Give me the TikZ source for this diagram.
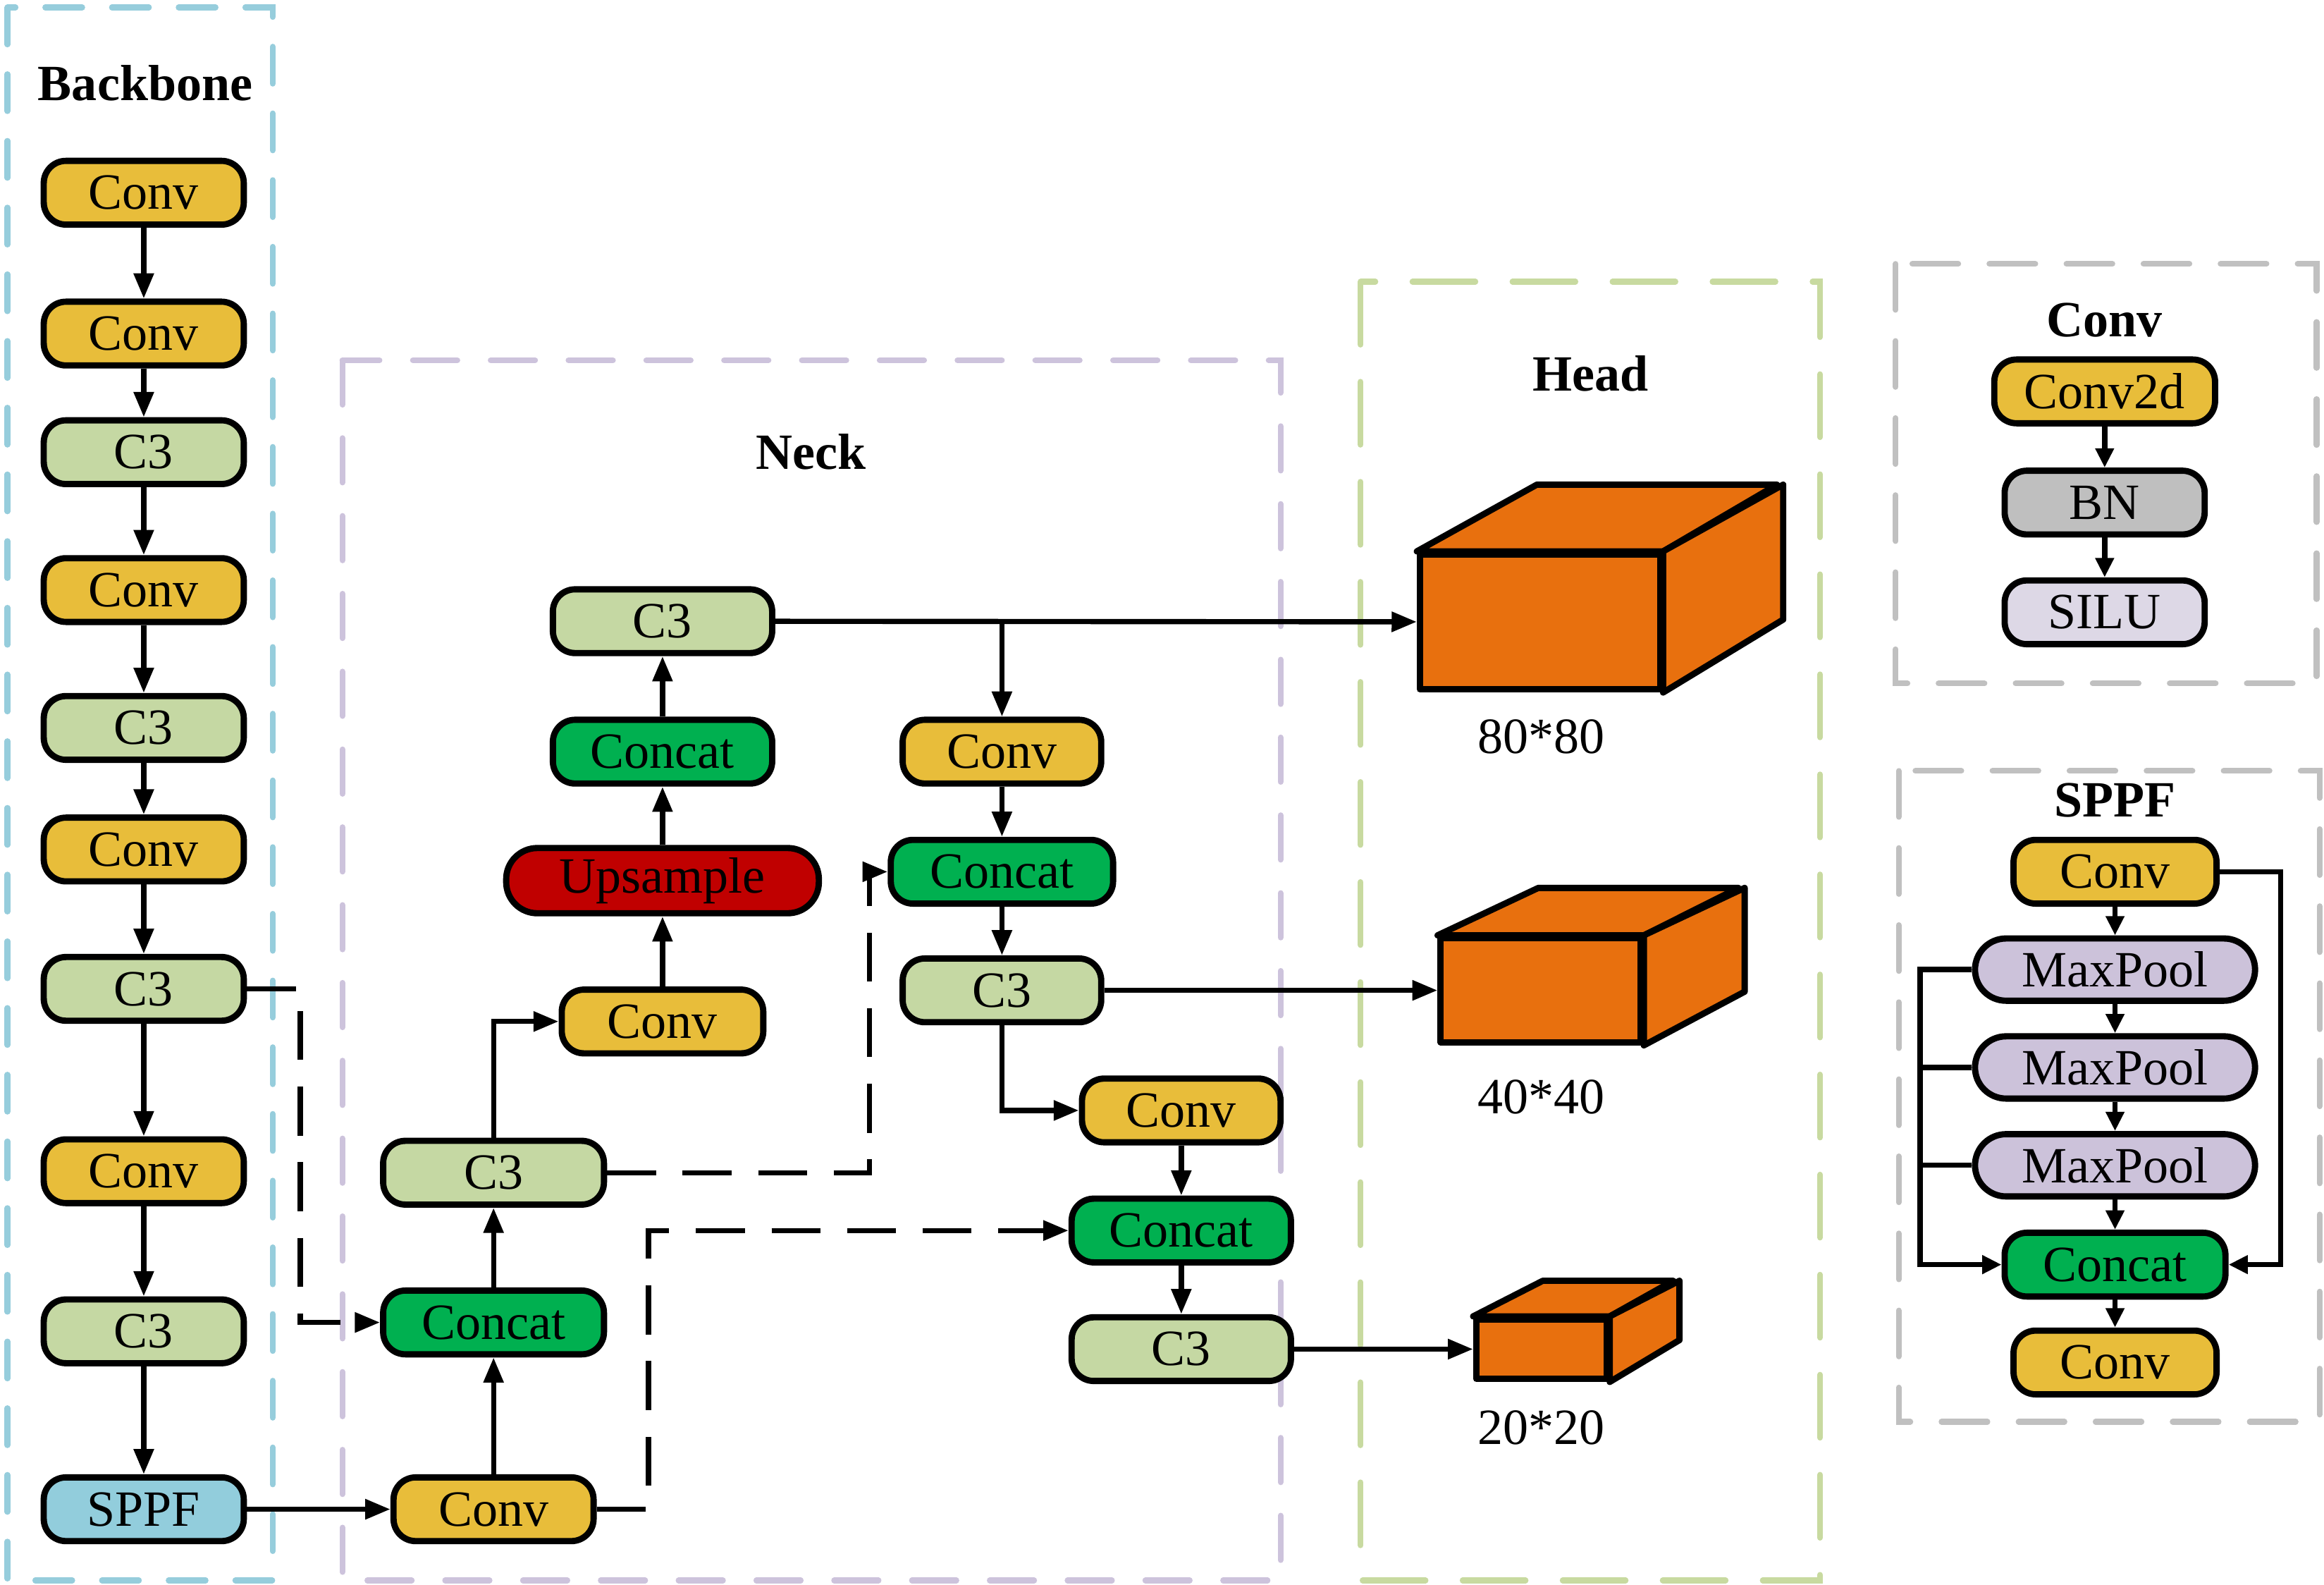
\documentclass[tikz,border=0pt]{standalone}
\usepackage{fontspec}
\setmainfont{Liberation Serif}
\usetikzlibrary{arrows.meta, positioning, calc}
\definecolor{convyellow}{RGB}{232, 189, 58}
\definecolor{csgreen}{RGB}{197, 216, 163}
\definecolor{catgreen}{RGB}{0, 176, 80}
\definecolor{upred}{RGB}{192, 0, 0}
\definecolor{sppfblue}{RGB}{146, 205, 220}
\definecolor{headorange}{RGB}{232, 112, 14}
\definecolor{poollav}{RGB}{204, 194, 218}
\definecolor{silulav}{RGB}{221, 216, 230}
\definecolor{bngray}{RGB}{191, 191, 191}
\definecolor{bbframe}{RGB}{150, 205, 220}
\definecolor{nkframe}{RGB}{205, 195, 220}
\definecolor{hdframe}{RGB}{200, 218, 160}
\definecolor{gyframe}{RGB}{192, 192, 192}
\newcommand{\boxfont}{\fontsize{19.5}{22}\selectfont}

\tikzset{
  blk/.style={draw=black, line width=2.4pt, rounded corners=0.3cm, minimum height=0.86cm, minimum width=2.7cm, inner sep=0pt, font=\boxfont},
  convbox/.style={blk, fill=convyellow},
  csbox/.style={blk, fill=csgreen},
  catbox/.style={blk, fill=catgreen, minimum width=2.96cm},
  pillbox/.style={blk, rounded corners=0.42cm, minimum height=0.84cm},
  arr/.style={line width=2pt, -{Triangle[length=0.34cm, width=0.26cm]}},
  sarr/.style={line width=2pt, -{Triangle[length=0.26cm, width=0.24cm]}},
  dsh/.style={line width=2pt, dash pattern=on 0.66cm off 0.36cm, -{Triangle[length=0.34cm, width=0.26cm]}},
  frame/.style={line width=2.2pt, line cap=round, dash pattern=on 0.5cm off 0.4cm},
  cubeface/.style={draw=black, fill=headorange, line width=2.4pt, line join=round},
  title/.style={font=\boxfont\bfseries},
  sizelabel/.style={font=\boxfont}
}

\begin{document}
\begin{tikzpicture}[x=0.02cm, y=-0.02cm]
  \useasboundingbox (0,0) rectangle (1568,1069);

  % Frames
  \draw[frame, draw=bbframe] (5,5) rectangle (184,1066);
  \draw[frame, draw=nkframe, dash pattern=on 0.6cm off 0.45cm] (231,243) rectangle (864,1066);
  \draw[frame, draw=hdframe, dash pattern=on 0.85cm off 0.5cm] (918,190) rectangle (1228,1066);
  \draw[frame, draw=gyframe, dash pattern=on 0.62cm off 0.42cm] (1279,178) rectangle (1563,461);
  \draw[frame, draw=gyframe, dash pattern=on 0.62cm off 0.42cm] (1281,520) rectangle (1565,959);

  % Titles
  \node[title] (tbb) at (98,56) {Backbone};
  \node[title] (tnk) at (547,305) {Neck};
  \node[title] (thd) at (1073,252) {Head};
  \node[title] (tcv) at (1420,216) {Conv};
  \node[title] (tsp) at (1427,540) {SPPF};

  % Backbone
  \node[convbox] (bbconv1) at (97,130) {Conv};
  \node[convbox] (bbconv2) at (97,225) {Conv};
  \node[csbox] (bbc3a) at (97,305) {C3};
  \node[convbox] (bbconv3) at (97,398) {Conv};
  \node[csbox] (bbc3b) at (97,491) {C3};
  \node[convbox] (bbconv4) at (97,573) {Conv};
  \node[csbox] (bbc3c) at (97,667) {C3};
  \node[convbox] (bbconv5) at (97,790) {Conv};
  \node[csbox] (bbc3d) at (97,898) {C3};
  \node[blk, fill=sppfblue] (bbsppf) at (97,1018) {SPPF};
  \foreach \a/\b in {bbconv1/bbconv2, bbconv2/bbc3a, bbc3a/bbconv3, bbconv3/bbc3b, bbc3b/bbconv4, bbconv4/bbc3c, bbc3c/bbconv5, bbconv5/bbc3d, bbc3d/bbsppf}
    \draw[arr] (\a) -- (\b);

  % Neck
  \node[convbox] (nkconv1) at (333,1018) {Conv};
  \node[catbox, minimum width=2.98cm] (nkcat1) at (333,892) {Concat};
  \node[csbox, minimum width=2.98cm] (nkc3a) at (333,791) {C3};
  \node[convbox, minimum width=2.72cm] (nkconv2) at (447,689) {Conv};
  \node[pillbox, fill=upred, minimum width=4.22cm, minimum height=0.88cm] (nkup) at (447,594) {Upsample};
  \node[catbox] (nkcat2) at (447,507) {Concat};
  \node[csbox, minimum width=2.96cm] (nkc3b) at (447,419) {C3};
  \node[convbox, minimum width=2.68cm] (nkconv3) at (676,507) {Conv};
  \node[catbox, minimum width=3cm] (nkcat3) at (676,588) {Concat};
  \node[csbox, minimum width=2.68cm] (nkc3c) at (676,668) {C3};
  \node[convbox, minimum width=2.68cm] (nkconv4) at (797,749) {Conv};
  \node[catbox] (nkcat4) at (797,830) {Concat};
  \node[csbox, minimum width=2.96cm] (nkc3d) at (797,910) {C3};

  \draw[arr] (bbsppf) -- (nkconv1);
  \draw[arr] (nkconv1) -- (nkcat1);
  \draw[arr] (nkcat1) -- (nkc3a);
  \draw[arr] (nkc3a.north) |- (nkconv2.west);
  \draw[arr] (nkconv2) -- (nkup);
  \draw[arr] (nkup) -- (nkcat2);
  \draw[arr] (nkcat2) -- (nkc3b);
  \draw[arr] (nkc3b.east -| nkconv3.north) -- (nkconv3.north);
  \draw[arr] (nkconv3) -- (nkcat3);
  \draw[arr] (nkcat3) -- (nkc3c);
  \draw[arr] (nkc3c.south) |- (nkconv4.west);
  \draw[arr] (nkconv4) -- (nkcat4);
  \draw[arr] (nkcat4) -- (nkc3d);

  % skip links
  \draw[dsh] (bbc3c.east) -- ++(36,0) |- (nkcat1.west);
  \draw[dsh] (nkc3a.east) -- ++(177,0) |- (nkcat3.west);
  \draw[dsh] (nkconv1.east) -- ++(35,0) |- (nkcat4.west);

  % Head
  \node[cubeface, minimum width=3.24cm, minimum height=1.82cm, inner sep=0pt] (p3) at (1039,419.5) {};
  \draw[cubeface] (p3.north west) -- ++(81,-45) -- ++(162,0) -- (p3.north east) -- cycle;
  \draw[cubeface] (p3.north east) -- ++(81,-45) -- ++(0,91) -- (p3.south east) -- cycle;
  \node[cubeface, minimum width=2.7cm, minimum height=1.4cm, inner sep=0pt] (p4) at (1039.5,668) {};
  \draw[cubeface] (p4.north west) -- ++(68,-32) -- ++(135,0) -- (p4.north east) -- cycle;
  \draw[cubeface] (p4.north east) -- ++(68,-32) -- ++(0,70) -- (p4.south east) -- cycle;
  \node[cubeface, minimum width=1.76cm, minimum height=0.8cm, inner sep=0pt] (p5) at (1040,910) {};
  \draw[cubeface] (p5.north west) -- ++(47,-24) -- ++(88,0) -- (p5.north east) -- cycle;
  \draw[cubeface] (p5.north east) -- ++(47,-24) -- ++(0,40) -- (p5.south east) -- cycle;

  \node[sizelabel] (l3) at (1040,497) {80*80};
  \node[sizelabel] (l4) at (1040,740) {40*40};
  \node[sizelabel] (l5) at (1040,963) {20*20};

  \draw[arr] (nkc3b) -- (p3);
  \draw[arr] (nkc3c) -- (p4);
  \draw[arr] (nkc3d) -- (p5);

  % Conv block
  \node[convbox, minimum width=2.98cm] (cvconv) at (1420,264) {Conv2d};
  \node[blk, fill=bngray] (cvbn) at (1420,339) {BN};
  \node[blk, fill=silulav] (cvsilu) at (1420,413) {SILU};
  \draw[sarr] (cvconv) -- (cvbn);
  \draw[sarr] (cvbn) -- (cvsilu);

  % SPPF block
  \node[convbox, minimum width=2.74cm] (spconv1) at (1427,588) {Conv};
  \node[pillbox, fill=poollav, minimum width=3.78cm] (spmp1) at (1427,654) {MaxPool};
  \node[pillbox, fill=poollav, minimum width=3.78cm] (spmp2) at (1427,720) {MaxPool};
  \node[pillbox, fill=poollav, minimum width=3.78cm] (spmp3) at (1427,786) {MaxPool};
  \node[catbox, minimum width=2.98cm] (spcat) at (1427,853) {Concat};
  \node[convbox, minimum width=2.74cm] (spconv2) at (1427,919) {Conv};
  \foreach \a/\b in {spconv1/spmp1, spmp1/spmp2, spmp2/spmp3, spmp3/spcat, spcat/spconv2}
    \draw[sarr] (\a) -- (\b);
  \draw[sarr] (spconv1.east) -- ++(41,0) |- (spcat.east);
  \draw[sarr] (spmp1.west) -- ++(-35,0) |- (spcat.west);
  \draw[line width=2pt] (spmp2.west) -- ++(-35,0);
  \draw[line width=2pt] (spmp3.west) -- ++(-35,0);
\end{tikzpicture}
\end{document}
